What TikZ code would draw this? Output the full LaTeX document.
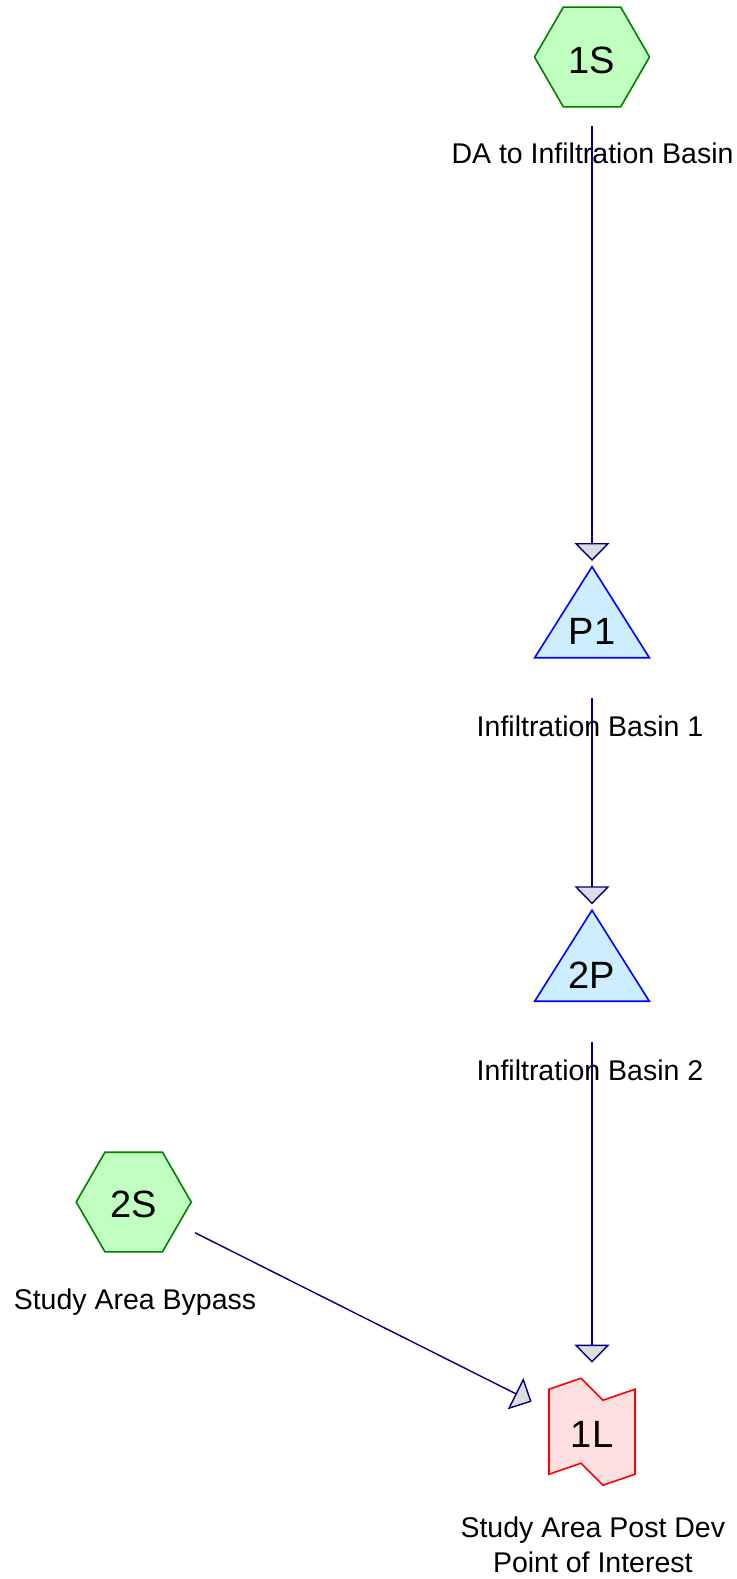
\documentclass[tikz,border=0pt]{standalone}
\usepackage{fontspec}
\setmainfont{Liberation Sans}
\usetikzlibrary{arrows.meta}
\definecolor{subfill}{HTML}{C0FFC0}
\definecolor{subline}{HTML}{008000}
\definecolor{pondfill}{HTML}{CCEEFF}
\definecolor{pondline}{HTML}{0000FF}
\definecolor{linkfill}{HTML}{FFE0E0}
\definecolor{linkline}{HTML}{FF0000}
\definecolor{reach}{HTML}{000080}
\definecolor{tipfill}{HTML}{DDDDDD}
\begin{document}
\begin{tikzpicture}[x=1pt,y=-1pt,
  idtext/.style={inner sep=0pt, font=\fontsize{38}{42}\selectfont},
  notelabel/.style={inner sep=0pt, anchor=base, font=\fontsize{28.5}{35.4}\selectfont},
  flow/.style={draw=reach, line width=1.4pt,
    -{Triangle[length=18pt,width=35pt,fill=tipfill]}},
  subcat/.pic={\draw[draw=subline, fill=subfill, line width=1.6pt]
    (-57.5,0) -- (-28.75,-49.8) -- (28.75,-49.8) -- (57.5,0)
    -- (28.75,49.8) -- (-28.75,49.8) -- cycle;},
  pond/.pic={\draw[draw=pondline, fill=pondfill, line width=1.6pt]
    (0,-45.5) -- (57.3,45.5) -- (-57.3,45.5) -- cycle;},
  junction/.pic={\draw[draw=linkline, fill=linkfill, line width=1.6pt]
    (-43,-42.5) -- (-11,-53.5) -- (11,-31.5) -- (43,-42.5)
    -- (43,42.5) -- (11,53.5) -- (-11,31.5) -- (-43,42.5) -- cycle;}
]
\path[use as bounding box, fill=white] (0,0) rectangle (736,1579);

% shapes
\pic at (592,57) {subcat};
\pic at (592,612.2) {pond};
\pic at (592,955.7) {pond};
\pic at (133.7,1202) {subcat};
\pic at (592,1431.7) {junction};

% identifiers
\node[idtext] (s1) at (592,60) {1S};
\node[idtext] (p1) at (592,631.7) {P1};
\node[idtext] (p2) at (592,975) {2P};
\node[idtext] (s2) at (134,1204) {2S};
\node[idtext] (l1) at (592,1434.7) {1L};

% descriptions
\node[notelabel] (s1d) at (592.5,163.3) {DA to Infiltration Basin};
\node[notelabel] (p1d) at (590,736.7) {Infiltration Basin 1};
\node[notelabel] (p2d) at (590,1080) {Infiltration Basin 2};
\node[notelabel] (s2d) at (135,1309.3) {Study Area Bypass};
\node[inner sep=0pt, align=center, font=\fontsize{28.5}{35.4}\selectfont]
  (l1d) at (592.8,1544.6) {Study Area Post Dev\\Point of Interest};

% routing
\draw[flow] ([shift={(0,66)}]s1.center) -- ([shift={(0,-70.7)}]p1.center);
\draw[flow] ([shift={(0,66.6)}]p1.center) -- ([shift={(0,-70.7)}]p2.center);
\draw[flow] ([shift={(0,67)}]p2.center) -- ([shift={(0,-72)}]l1.center);
\draw[flow] ([shift={(61,28.7)}]s2.center) -- ([shift={(-60.4,-33)}]l1.center);
\end{tikzpicture}
\end{document}
